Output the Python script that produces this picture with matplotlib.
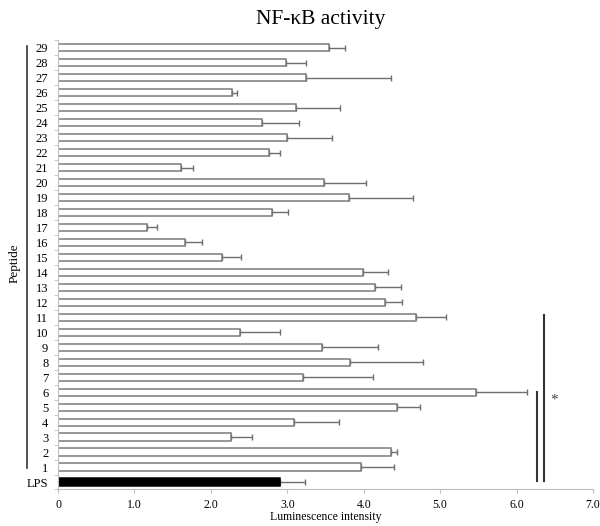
#!/usr/bin/env python3
# NF-kB activity, horizontal bars per peptide

import matplotlib
matplotlib.use("Agg")
import matplotlib.pyplot as plt
import matplotlib.transforms as mtrans
import numpy as np

plt.rcParams['font.family'] = ['Liberation Serif', 'DejaVu Serif']

labels = ["LPS"] + [str(i) for i in range(1, 30)]
means = [2.90, 3.97, 4.36, 2.26, 3.09, 4.43, 5.47, 3.20, 3.82, 3.45,
         2.38, 4.69, 4.28, 4.15, 3.99, 2.15, 1.66, 1.17, 2.80, 3.81,
         3.48, 1.61, 2.76, 3.00, 2.67, 3.11, 2.28, 3.25, 2.98, 3.55]
tops = [3.23, 4.40, 4.43, 2.54, 3.68, 4.74, 6.14, 4.12, 4.78, 4.19,
        2.91, 5.07, 4.50, 4.49, 4.32, 2.40, 1.89, 1.30, 3.01, 4.65,
        4.03, 1.77, 2.91, 3.59, 3.15, 3.69, 2.34, 4.36, 3.25, 3.76]

means = np.array(means)
errs = np.array(tops) - means
ypos = np.arange(len(labels))

fig = plt.figure(figsize=(6.0, 5.26), dpi=100)
ax = fig.add_axes([0.0967, 0.0694, 0.8917, 0.854])

fills = ["black"] + ["white"] * (len(labels) - 1)
edges = ["black"] + ["#7a7a7a"] * (len(labels) - 1)
ax.barh(ypos, means, height=0.48, color=fills, edgecolor=edges, linewidth=1.1, zorder=2)
ax.errorbar(means, ypos, xerr=[np.zeros_like(errs), errs], fmt="none",
            ecolor="#6e6e6e", elinewidth=1.0, capsize=2, capthick=1.0, zorder=1)

ax.set_xlim(0, 7.0)
ax.set_ylim(-0.5, len(labels) - 0.5)
ax.set_xticks(np.arange(0, 8))
ax.set_xticklabels(["0"] + ["{:.1f}".format(v) for v in range(1, 8)], fontsize=8.5)
ax.set_yticks(ypos)
ax.set_yticklabels(labels, fontsize=9)
ax.set_yticks(np.arange(-0.5, len(labels)), minor=True)
ax.tick_params(axis="y", which="major", length=0, pad=7)
ax.tick_params(axis="y", which="minor", length=3, color="#bfbfbf", direction="out")
ax.tick_params(axis="x", length=3, color="#bfbfbf", direction="out", pad=3.5)
for s in ["top", "right"]:
    ax.spines[s].set_visible(False)
for s in ["left", "bottom"]:
    ax.spines[s].set_color("#bfbfbf")
ax.set_xlabel("Luminescence intensity", fontsize=8.5, labelpad=0)

# bracket for the peptides with its label
tr = mtrans.blended_transform_factory(ax.transAxes, ax.transData)
ax.plot([-0.058, -0.058], [0.95, 29.1], color="#333333", lw=1.2, transform=tr, clip_on=False)
fig.text(0.024, 1 - 263 / 526, "Peptide", rotation=90, ha="center", va="center", fontsize=9.5)

# significance lines
ax.plot([6.27, 6.27], [0.1, 6.0], color="#333333", lw=1.5, clip_on=False)
ax.plot([6.36, 6.36], [0.1, 11.15], color="#333333", lw=1.5, clip_on=False)
ax.text(6.49, 5.45, "*", ha="center", va="center", fontsize=11, color="#444444")

fig.text(0.535, 0.962, "NF-\u03baB activity", ha="center", va="center", fontsize=15.5)

fig.savefig("out.png", dpi=100)
